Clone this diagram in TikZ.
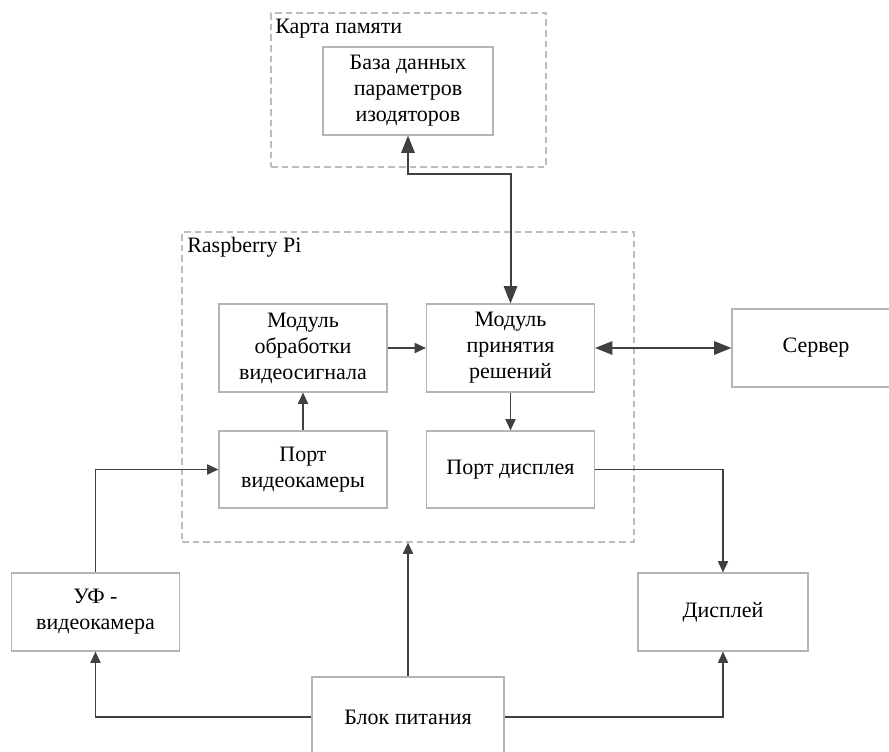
\documentclass[tikz,border=0pt]{standalone}
\usepackage{fontspec}
\setmainfont{Liberation Serif}
\usepackage{tikz}
\usetikzlibrary{arrows.meta,positioning,calc}
\definecolor{linegray}{HTML}{404040}
\definecolor{boxgray}{HTML}{B4B4B4}
\definecolor{dashgray}{HTML}{BDBDBD}

\begin{document}
\begin{tikzpicture}[
  x=0.75pt, y=-0.75pt,
  box/.style={rectangle, draw=boxgray, line width=0.8pt, minimum width=126pt, minimum height=66pt, align=center, inner sep=2pt, font=\fontsize{16.5}{19.5}\selectfont},
  portbox/.style={box, minimum height=57.75pt},
  group/.style={rectangle, draw=dashgray, dashed, dash pattern=on 5pt off 3pt, line width=0.8pt},
  grouplabel/.style={anchor=west, inner sep=0pt, font=\fontsize{16.5}{19.5}\selectfont},
  arr/.style={-{Triangle[length=8.5pt,width=7.5pt]}, draw=linegray, line width=1.4pt},
  dbl/.style={{Triangle[length=13pt,width=10pt]}-{Triangle[length=13pt,width=10pt]}, draw=linegray, line width=1.5pt}
]
\useasboundingbox (0,0) rectangle (889,751);
\fill[white] (0,0) rectangle (889,751);
\clip (0,0) rectangle (889,751);

% Memory card
\node[group, minimum width=206.25pt, minimum height=115.5pt] (mem) at (408.5,90) {};
\node[grouplabel] (memlabel) at (275,29) {Карта памяти};
\node[box, minimum width=127.5pt] (db) at (408,91) {База данных\\параметров\\изодяторов};

% Raspberry Pi
\node[group, minimum width=339pt, minimum height=232.5pt] (rpi) at (408,387) {};
\node[grouplabel] (rpilabel) at (187,247) {Raspberry Pi};
\node[box] (proc) at (303,348) {Модуль\\обработки\\видеосигнала};
\node[box] (dec) at (510.5,348) {Модуль\\принятия\\решений};
\node[portbox] (portcam) at (303,469.5) {Порт\\видеокамеры};
\node[portbox] (portdisp) at (510.5,469.5) {Порт дисплея};

% Outside blocks
\node[box, minimum height=58.5pt] (server) at (816,348) {Сервер};
\node[box, minimum height=58.5pt] (cam) at (95.5,612) {УФ -\\видеокамера};
\node[box, minimum height=58.5pt, minimum width=127.5pt] (disp) at (723,612) {Дисплей};
\node[box, minimum width=144pt, minimum height=60pt] (psu) at (408,717) {Блок питания};

% Data links
\draw[dbl] (db.south) -- ++(0,38) -| (dec.north);
\draw[arr] (portcam.north) -- (proc.south);
\draw[arr] (proc.east) -- (dec.west);
\draw[arr] (dec.south) -- (portdisp.north);
\draw[dbl] (dec.east) -- (server.west);
\draw[arr] (cam.north) |- (portcam.west);
\draw[arr] (portdisp.east) -| (disp.north);

% Power
\draw[arr] (psu.west) -| (cam.south);
\draw[arr] (psu.east) -| (disp.south);
\draw[arr] (psu.north) -- (rpi.south);

\end{tikzpicture}
\end{document}
